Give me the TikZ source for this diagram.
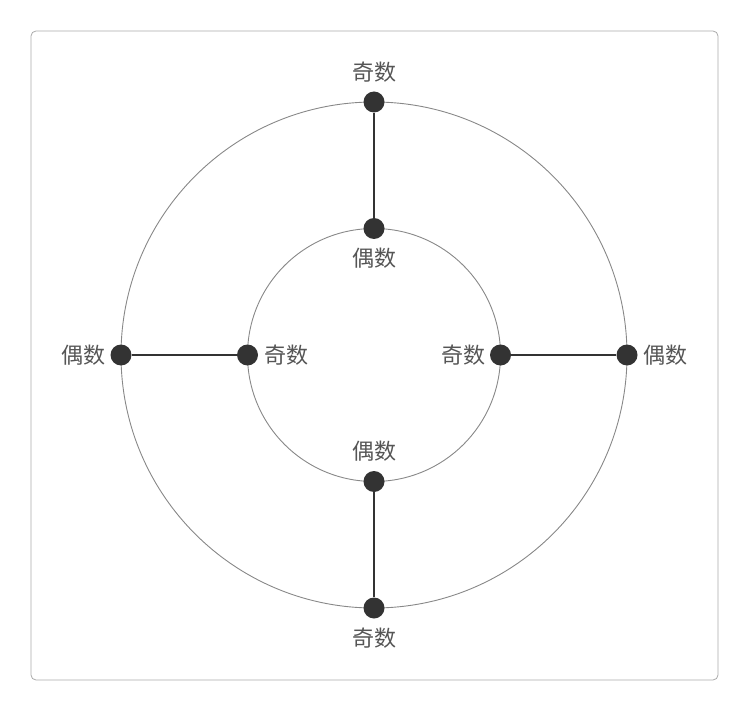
\documentclass[tikz,border=0pt]{standalone}
\usepackage{fontspec}
\newfontfamily\cjk{Noto Sans CJK SC}
\begin{document}
\begin{tikzpicture}[x=1pt,y=-1pt,
  dot/.style={circle,fill=dotc,inner sep=0pt,minimum size=21pt},
  lbl/.style={font=\cjk\fontsize{22}{24}\selectfont,text=txtc,inner sep=0pt},
  ring/.style={draw=ringc,line width=0.9pt},
  spoke/.style={draw=dotc,line width=2pt}]
\definecolor{dotc}{HTML}{333333}
\definecolor{txtc}{HTML}{555555}
\definecolor{ringc}{HTML}{888888}
\definecolor{framec}{HTML}{AAAAAA}
\useasboundingbox (0,0) rectangle (749,711);
\draw[draw=framec,line width=0.8pt,rounded corners=5pt] (31,31) rectangle (718,680);
\coordinate (c) at (374,355);
\draw[ring] (c) circle (253);
\draw[ring] (c) circle (126.5);
\node[dot] (ot) at (374,102) {};
\node[dot] (it) at (374,228.5) {};
\node[dot] (ob) at (374,608) {};
\node[dot] (ib) at (374,481.5) {};
\node[dot] (ol) at (121,355) {};
\node[dot] (il) at (247.5,355) {};
\node[dot] (or) at (627,355) {};
\node[dot] (ir) at (500.5,355) {};
\draw[spoke] (ot) -- (it);
\draw[spoke] (ob) -- (ib);
\draw[spoke] (ol) -- (il);
\draw[spoke] (or) -- (ir);
\node[lbl] (lot) at (374,72) {奇数};
\node[lbl] (lit) at (374,258) {偶数};
\node[lbl] (lib) at (374,451) {偶数};
\node[lbl] (lob) at (374,638) {奇数};
\node[lbl] (lol) at (83,355) {偶数};
\node[lbl] (lil) at (286,355) {奇数};
\node[lbl] (lir) at (463,355) {奇数};
\node[lbl] (lor) at (665,355) {偶数};
\end{tikzpicture}
\end{document}
